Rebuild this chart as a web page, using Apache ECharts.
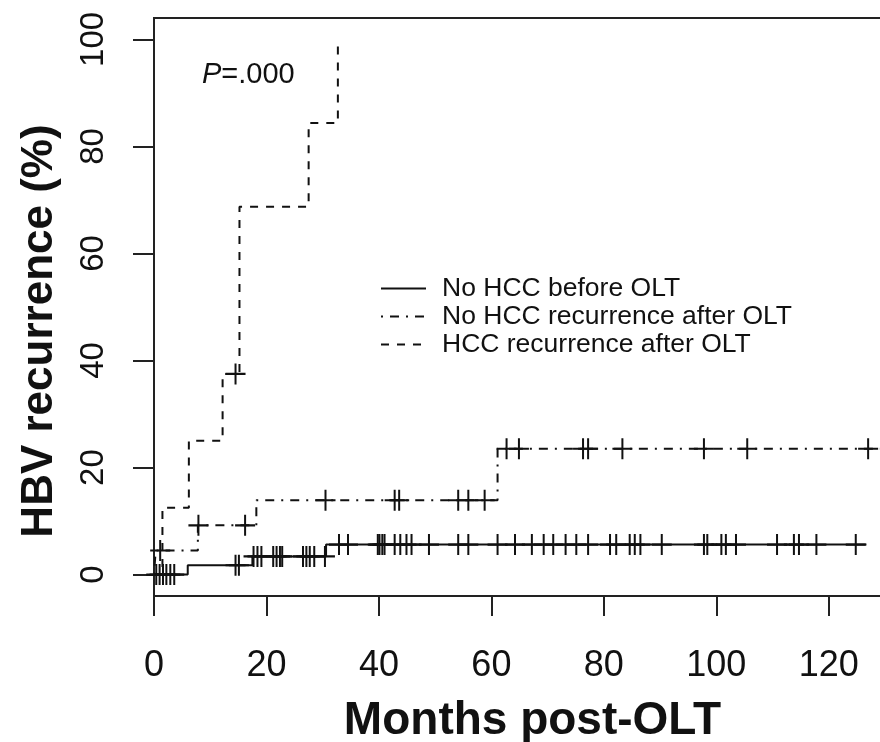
<!DOCTYPE html>
<html>
<head>
<meta charset="utf-8">
<script src="https://cdn.jsdelivr.net/npm/echarts@6/dist/echarts.min.js"></script>
<style>html,body{margin:0;padding:0;background:#fff;}#c{width:880px;height:742px;}</style>
</head>
<body>
<div id="c"></div>
<script>
// ---- data ----
const seriesNames = ['No HCC before OLT', 'No HCC recurrence after OLT', 'HCC recurrence after OLT'];
const xTicks = [0, 20, 40, 60, 80, 100, 120];
const yTicks = [0, 20, 40, 60, 80, 100];

// step curves: time (months) and cumulative HBV recurrence (%)
const s1Time = [0, 6.0, 17.5, 30.6, 126.7];
const s1Val  = [0, 1.75, 3.4, 5.6, 5.6];
const s2Time = [0, 0.3, 7.8, 18.2, 61.1, 130];
const s2Val  = [0, 4.5, 9.2, 13.9, 23.5, 23.5];
const s3Time = [0, 1.5, 6.2, 12.2, 15.2, 27.5, 32.7];
const s3Val  = [0, 12.5, 25, 37.5, 68.75, 84.4, 100];

// censoring times (months)
const s1Censor = [0.4, 1.0, 1.6, 2.2, 2.9, 3.6, 14.5, 15.1, 17.7, 18.4, 19.1, 21.2, 21.8, 22.4, 22.8,
  26.5, 27.1, 27.7, 28.5, 30.4, 32.9, 34.5, 39.8, 40.1, 40.6, 41.0, 42.8, 43.8, 44.9, 45.8, 48.9,
  54.1, 55.9, 61.1, 64.2, 67.2, 69.3, 71.0, 73.2, 75.1, 77.2, 81.1, 82.2, 84.6, 85.5, 86.5, 90.3,
  97.8, 98.4, 100.9, 101.7, 103.5, 110.8, 113.8, 114.7, 117.8, 124.8];
const s2Censor = [1.1, 7.9, 16.2, 30.5, 42.8, 43.6, 54.1, 55.9, 58.8, 62.7, 64.9, 76.3, 77.2, 83.3, 97.8, 105.5, 127.0];
const s3Censor = [14.5];

// ---- helpers ----
function pairs(t, v) { return t.map((x, i) => [x, v[i]]); }
function stepAt(t, v, x) { let y = v[0]; for (let i = 0; i < t.length; i++) { if (t[i] <= x) y = v[i]; } return y; }
function censorPts(t, v, c) { return c.map(x => [x, stepAt(t, v, x)]); }

const FONT = '"Liberation Sans", Arial, Helvetica, sans-serif';
const INK = '#111';
const PLUS = 'path://M9,0H11V9H20V11H11V20H9V11H0V9H9Z';

const lineStyles = [
  { color: INK, width: 2, type: 'solid' },
  { color: INK, width: 2, type: [2, 7, 9, 7] },
  { color: INK, width: 2, type: [8, 8] }
];
const stepData = [pairs(s1Time, s1Val), pairs(s2Time, s2Val), pairs(s3Time, s3Val)];
const censData = [censorPts(s1Time, s1Val, s1Censor), censorPts(s2Time, s2Val, s2Censor), censorPts(s3Time, s3Val, s3Censor)];

const series = [];
for (let i = 0; i < 3; i++) {
  series.push({
    name: seriesNames[i], type: 'line', step: 'end', data: stepData[i],
    symbol: 'none', showSymbol: false, lineStyle: lineStyles[i], itemStyle: { color: INK },
    silent: true, z: 3, animation: false
  });
}
for (let i = 0; i < 3; i++) {
  series.push({
    name: seriesNames[i] + ' censored', type: 'scatter', data: censData[i],
    symbol: PLUS, symbolSize: [20, 21], itemStyle: { color: INK, opacity: 1 },
    silent: true, z: 4, animation: false
  });
}

const chart = echarts.init(document.getElementById('c'), null, { renderer: 'canvas' });
chart.setOption({
  backgroundColor: '#fff',
  animation: false,
  title: {
    text: '{i|P}=.000', left: 197, top: 55,
    textStyle: { fontFamily: FONT, fontSize: 29, fontWeight: 'normal', color: INK,
      rich: { i: { fontFamily: FONT, fontSize: 29, fontStyle: 'italic', color: INK } } }
  },
  legend: {
    data: seriesNames, orient: 'vertical', left: 375, top: 270,
    itemWidth: 45, itemHeight: 14, itemGap: 1,
    itemStyle: { opacity: 0 },
    textStyle: { fontFamily: FONT, fontSize: 26.5, color: INK, lineHeight: 25, padding: [0, 0, 0, 11] },
    selectedMode: false
  },
  grid: { left: 154, top: 18, width: 731, height: 578, outerBoundsMode: 'none', containLabel: false,
    show: true, borderColor: '#222', borderWidth: 2, backgroundColor: 'transparent' },
  xAxis: {
    type: 'value', min: 0, max: 130,
    name: 'Months post-OLT', nameLocation: 'middle', nameGap: 102,
    nameTextStyle: { fontFamily: FONT, fontSize: 46, fontWeight: 'bold', color: INK, padding: [0, 0, 0, 26] },
    axisLine: { show: false, onZero: false },
    axisTick: { show: true, length: 20, lineStyle: { color: '#222', width: 2 }, customValues: xTicks },
    axisLabel: { fontFamily: FONT, fontSize: 36, color: INK, margin: 52, customValues: xTicks },
    splitLine: { show: false }
  },
  yAxis: {
    type: 'value', min: -4, max: 104,
    name: 'HBV recurrence (%)', nameLocation: 'middle', nameGap: 92, nameRotate: 90,
    nameTextStyle: { fontFamily: FONT, fontSize: 44, fontWeight: 'bold', color: INK, padding: [0, 48, 0, 0] },
    axisLine: { show: false, onZero: false },
    axisTick: { show: true, length: 21, lineStyle: { color: '#222', width: 2 }, customValues: yTicks },
    axisLabel: { fontFamily: FONT, fontSize: 33, color: INK, margin: 44, rotate: 90, customValues: yTicks },
    splitLine: { show: false }
  },
  series: series
});
</script>
</body>
</html>
